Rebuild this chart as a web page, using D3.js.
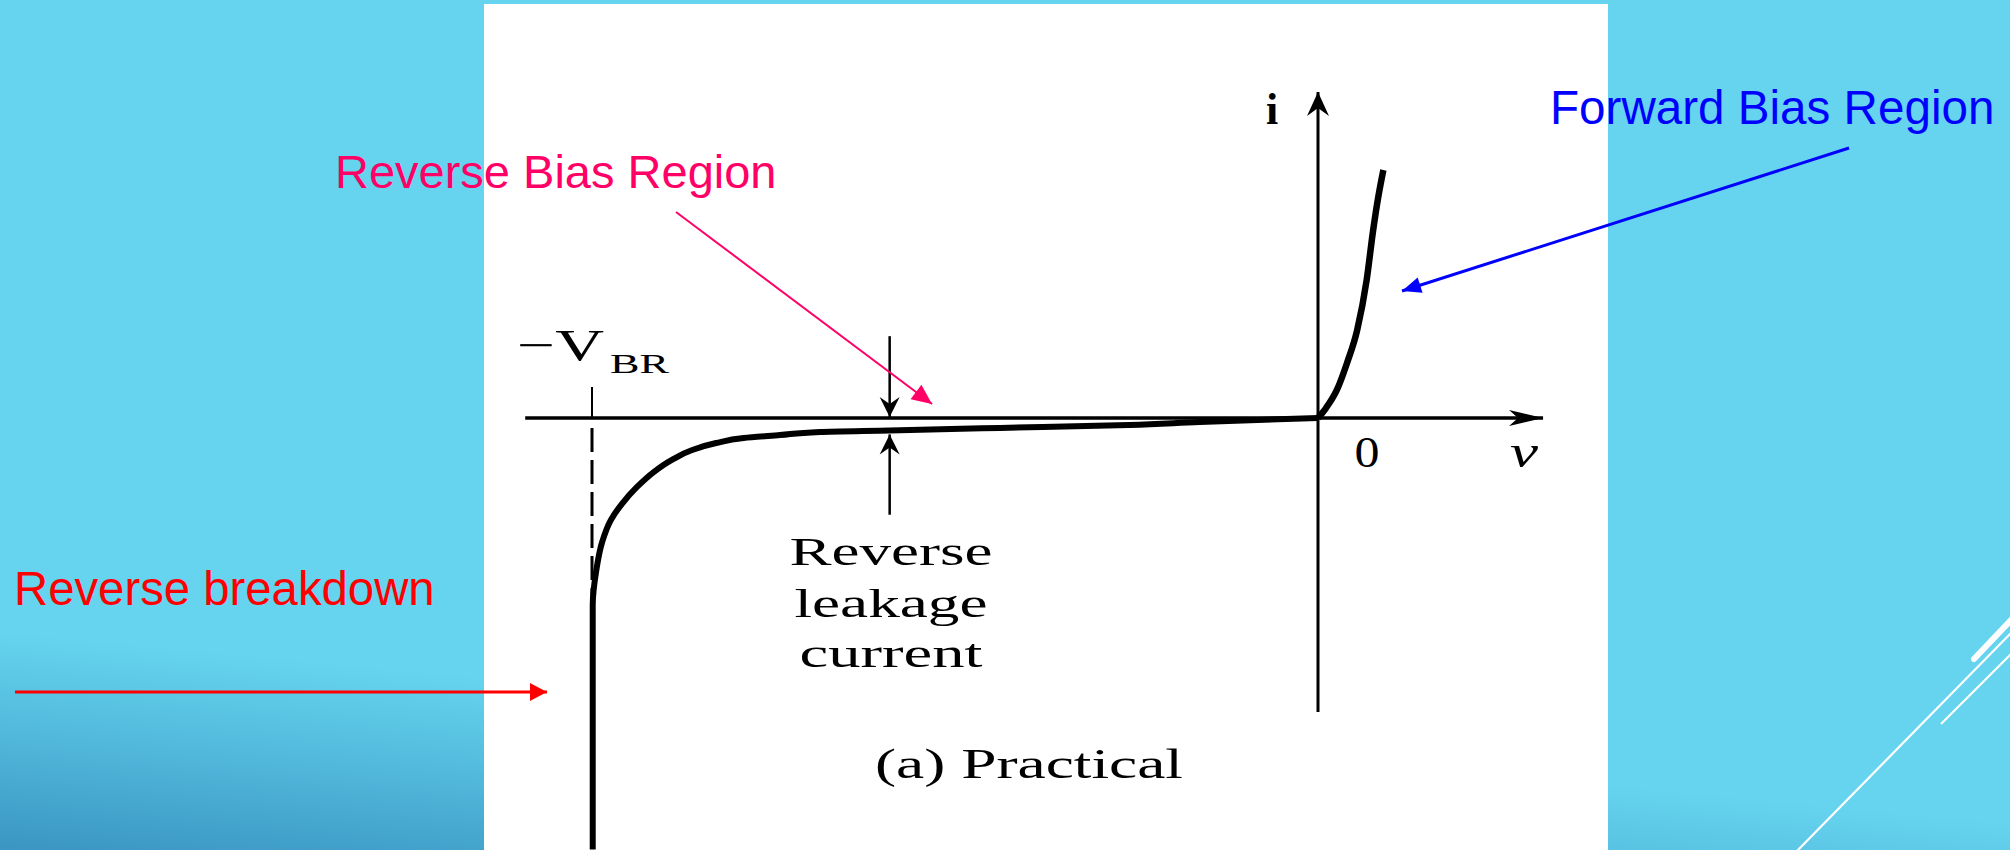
<!DOCTYPE html>
<html>
<head>
<meta charset="utf-8">
<script src="https://cdn.jsdelivr.net/npm/d3@7"></script>
<style>
  html, body { margin: 0; padding: 0; overflow: hidden; background: #66d4ef; }
  svg { display: block; }
</style>
</head>
<body>
<div id="chart"></div>
<script>
// diode characteristic, arbitrary units (breakdown at v = -10)
const forwardV = [0, 0.11, 0.26, 0.40, 0.54, 0.67, 0.76, 0.83, 0.90];
const forwardI = [0, 0.40, 1.13, 2.22, 3.55, 5.56, 7.58, 8.91, 10.0];

const reverseV = [-9.99, -9.99, -9.94, -9.86, -9.74, -9.59, -9.38, -9.15, -8.90, -8.62, -8.29, -7.91, -7.41, -6.86, -5.90, -4.38, -2.60, -1.63, 0];
const reverseI = [-17.4, -7.54, -6.13, -5.00, -4.11, -3.47, -2.78, -2.18, -1.69, -1.29, -1.01, -0.81, -0.69, -0.56, -0.50, -0.40, -0.28, -0.16, 0];

const breakdownV = -10;
const leakageV = -5.9;
const leakageI = -0.50;

const W = 2010, H = 850;

const svg = d3.select("#chart").append("svg")
    .attr("width", W)
    .attr("height", H);

const defs = svg.append("defs");

// slide background
const grad = defs.append("linearGradient")
    .attr("id", "bg")
    .attr("gradientUnits", "userSpaceOnUse")
    .attr("x1", 0).attr("y1", 630)
    .attr("x2", -21).attr("y2", 850);
grad.append("stop").attr("offset", 0).attr("stop-color", "#66d4ef");
grad.append("stop").attr("offset", 0.45).attr("stop-color", "#52b9dc");
grad.append("stop").attr("offset", 1).attr("stop-color", "#3a95c1");

svg.append("rect")
    .attr("width", W).attr("height", H)
    .attr("fill", "url(#bg)");

// decorative lines bottom right
const deco = [
    {x1: 1796, y1: 852, x2: 2012, y2: 632, w: 2.2, cap: "butt"},
    {x1: 1941, y1: 724, x2: 2012, y2: 653, w: 2, cap: "butt"},
    {x1: 1974, y1: 659, x2: 2014, y2: 617, w: 6, cap: "round"}
];
svg.selectAll("line.deco").data(deco).enter().append("line")
    .attr("class", "deco")
    .attr("x1", d => d.x1).attr("y1", d => d.y1)
    .attr("x2", d => d.x2).attr("y2", d => d.y2)
    .attr("stroke", "white")
    .attr("stroke-width", d => d.w)
    .attr("stroke-linecap", d => d.cap);

// white picture panel
svg.append("rect")
    .attr("x", 484).attr("y", 4)
    .attr("width", 1124).attr("height", H)
    .attr("fill", "white");

// arrow heads
function marker(id, path, box, color) {
    defs.append("marker")
        .attr("id", id)
        .attr("markerUnits", "userSpaceOnUse")
        .attr("viewBox", box.join(" "))
        .attr("markerWidth", box[2])
        .attr("markerHeight", box[3])
        .attr("refX", 0).attr("refY", 0)
        .attr("orient", "auto")
        .append("path")
        .attr("d", path)
        .attr("fill", color);
}
marker("axX", "M0,0 L-34,-8 L-25,0 L-34,8 Z", [-36, -10, 40, 20], "black");
marker("axY", "M0,0 L-24,-11 L-16,0 L-24,11 Z", [-26, -13, 30, 26], "black");
marker("small", "M0,0 L-20,-10 L-13,0 L-20,10 Z", [-22, -12, 26, 24], "black");
marker("pink", "M0,0 L-20,-9 L-20,9 Z", [-22, -11, 26, 22], "#ff0066");
marker("blue", "M0,0 L-19,-8 L-19,8 Z", [-21, -10, 24, 20], "#0000ff");
marker("red", "M0,0 L-17,-9 L-17,9 Z", [-19, -11, 22, 22], "#ff0000");

// scales
const x = d3.scaleLinear().domain([breakdownV, 0]).range([592, 1318]);
const y = d3.scaleLinear().domain([0, 10]).range([418, 170]);

const plot = svg.append("g");

// axes
plot.append("line")
    .attr("x1", x(-10.92)).attr("y1", y(0))
    .attr("x2", x(3.1)).attr("y2", y(0))
    .attr("stroke", "black").attr("stroke-width", 3.5)
    .attr("marker-end", "url(#axX)");
plot.append("line")
    .attr("x1", x(0)).attr("y1", y(-11.85))
    .attr("x2", x(0)).attr("y2", y(13.15))
    .attr("stroke", "black").attr("stroke-width", 3)
    .attr("marker-end", "url(#axY)");

// -VBR tick and dashed guide
plot.append("line")
    .attr("x1", x(breakdownV)).attr("y1", y(1.25))
    .attr("x2", x(breakdownV)).attr("y2", y(0))
    .attr("stroke", "black").attr("stroke-width", 2);
plot.append("line")
    .attr("x1", x(breakdownV)).attr("y1", y(-0.4))
    .attr("x2", x(breakdownV)).attr("y2", y(-7.3))
    .attr("stroke", "black").attr("stroke-width", 3)
    .attr("stroke-dasharray", "24,8");

// curves
const reversePts = reverseV.map((v, i) => [v, reverseI[i]]).reverse();
const forwardPts = forwardV.map((v, i) => [v, forwardI[i]]);

const lineY = d3.line()
    .x(d => x(d[0]))
    .y(d => y(d[1]))
    .curve(d3.curveMonotoneY);
const lineX = d3.line()
    .x(d => x(d[0]))
    .y(d => y(d[1]))
    .curve(d3.curveMonotoneX);

plot.append("path")
    .datum(reversePts)
    .attr("d", lineY)
    .attr("fill", "none")
    .attr("stroke", "black")
    .attr("stroke-width", 6)
    .attr("stroke-linejoin", "round");

plot.append("path")
    .datum(forwardPts)
    .attr("d", lineX)
    .attr("fill", "none")
    .attr("stroke", "black")
    .attr("stroke-width", 6.5);

// leakage current arrows
plot.append("line")
    .attr("x1", x(leakageV)).attr("y1", y(3.3))
    .attr("x2", x(leakageV)).attr("y2", y(0) - 1)
    .attr("stroke", "black").attr("stroke-width", 2.5)
    .attr("marker-end", "url(#small)");
plot.append("line")
    .attr("x1", x(leakageV)).attr("y1", y(-3.9))
    .attr("x2", x(leakageV)).attr("y2", y(leakageI) + 4)
    .attr("stroke", "black").attr("stroke-width", 2.5)
    .attr("marker-end", "url(#small)");

// figure labels (scanned serif text is stretched sideways)
const serif = "'Liberation Serif', 'Times New Roman', serif";
const figText = [
    {t: "Reverse", x: 891, y: 565, size: 41, len: 203},
    {t: "leakage", x: 891, y: 617, size: 41, len: 193},
    {t: "current", x: 891, y: 667, size: 41, len: 183},
    {t: "(a) Practical", x: 1029, y: 778, size: 42, len: 308},
    {t: "0", x: 1367, y: 467, size: 44, len: 25}
];
plot.selectAll("text.fig").data(figText).enter().append("text")
    .attr("class", "fig")
    .attr("x", d => d.x).attr("y", d => d.y)
    .attr("text-anchor", "middle")
    .attr("font-family", serif)
    .attr("font-size", d => d.size)
    .attr("textLength", d => d.len)
    .attr("lengthAdjust", "spacingAndGlyphs")
    .text(d => d.t);

plot.append("text")
    .attr("x", 1272).attr("y", 124)
    .attr("text-anchor", "middle")
    .attr("font-family", serif).attr("font-size", 44)
    .attr("font-weight", "bold")
    .text("i");
plot.append("text")
    .attr("x", 1524).attr("y", 467)
    .attr("text-anchor", "middle")
    .attr("font-family", serif).attr("font-size", 46)
    .attr("font-style", "italic")
    .attr("textLength", 28).attr("lengthAdjust", "spacingAndGlyphs")
    .text("v");
plot.append("text")
    .attr("x", 517).attr("y", 360)
    .attr("font-family", serif).attr("font-size", 44)
    .attr("textLength", 87).attr("lengthAdjust", "spacingAndGlyphs")
    .text("\u2212V");
plot.append("text")
    .attr("x", 610).attr("y", 373)
    .attr("font-family", serif).attr("font-size", 27)
    .attr("textLength", 59).attr("lengthAdjust", "spacingAndGlyphs")
    .text("BR");

// slide annotations
const sans = "'Liberation Sans', Arial, sans-serif";
const notes = [
    {t: "Reverse Bias Region", x: 335, y: 188, size: 47, color: "#ff0066",
     line: [676, 212, 932, 404], w: 2, mk: "pink"},
    {t: "Forward Bias Region", x: 1550, y: 124, size: 47.6, color: "#0000ff",
     line: [1849, 148, 1402, 291], w: 3, mk: "blue"},
    {t: "Reverse breakdown", x: 14, y: 605, size: 47.3, color: "#ff0000",
     line: [15, 692, 547, 692], w: 3, mk: "red"}
];
const note = svg.selectAll("g.note").data(notes).enter().append("g")
    .attr("class", "note");
note.append("text")
    .attr("x", d => d.x).attr("y", d => d.y)
    .attr("font-family", sans)
    .attr("font-size", d => d.size)
    .attr("fill", d => d.color)
    .text(d => d.t);
note.append("line")
    .attr("x1", d => d.line[0]).attr("y1", d => d.line[1])
    .attr("x2", d => d.line[2]).attr("y2", d => d.line[3])
    .attr("stroke", d => d.color)
    .attr("stroke-width", d => d.w)
    .attr("marker-end", d => "url(#" + d.mk + ")");
</script>
</body>
</html>
